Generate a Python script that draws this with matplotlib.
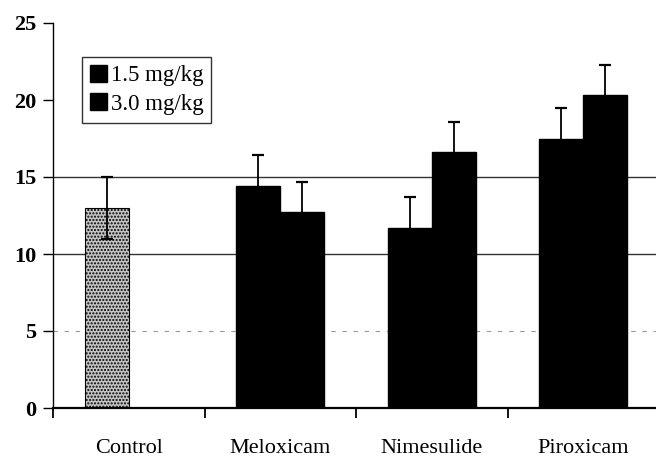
import numpy as np
import matplotlib
matplotlib.use("Agg")
import matplotlib.pyplot as plt
from matplotlib.patches import Patch

plt.rcParams['font.family'] = ['Liberation Serif', 'DejaVu Serif']

groups = ['Control', 'Meloxicam', 'Nimesulide', 'Piroxicam']
dose_labels = ['1.5 mg/kg', '3.0 mg/kg']
control_val = 13.0
control_err = 2.0
low_dose = [14.4, 11.7, 17.5]
low_err = [2.0, 2.0, 2.0]
high_dose = [12.7, 16.6, 20.3]
high_err = [2.0, 2.0, 2.0]

W, H = 656, 458
fig = plt.figure(figsize=(W / 100, H / 100), dpi=100)
ax = fig.add_axes([53 / W, 50 / H, 606 / W, 385 / H])

w = 0.29
x = np.arange(len(groups))

# gridlines like the scan
ax.axhline(15, color='#333333', lw=1.0, zorder=0)
ax.axhline(10, color='#333333', lw=1.0, zorder=0)
ax.axhline(5, color='#999999', lw=0.8, ls=(0, (4, 6)), zorder=0)

ekw = dict(ecolor='black', elinewidth=1.3, capsize=4, capthick=1.6)
ax.bar(x[0] - w / 2, control_val, w, color='#c4c4c4', edgecolor='black',
       lw=0.8, hatch='.....', zorder=2)
ax.errorbar(x[0] - w / 2, control_val, yerr=control_err, fmt='none', zorder=3, **ekw)

ax.bar(x[1:] - w / 2, low_dose, w, color='black', edgecolor='black', zorder=2)
ax.bar(x[1:] + w / 2, high_dose, w, color='black', edgecolor='black', zorder=2)
for off, vals, errs in [(-w / 2, low_dose, low_err), (w / 2, high_dose, high_err)]:
    eb = ax.errorbar(x[1:] + off, vals, yerr=[np.zeros(3), errs], fmt='none', zorder=3, **ekw)
    eb[1][0].set_visible(False)  # hide lower caps

ax.set_xlim(-0.5, 3.5)
ax.set_ylim(0, 25)
ax.set_yticks([0, 5, 10, 15, 20, 25])
ax.set_yticklabels(['0', '5', '10', '15', '20', '25'], fontsize=16, fontweight='bold')
ax.set_xticks(x - 0.5)
ax.set_xticklabels([])
ax.set_xticks(x, minor=True)
ax.set_xticklabels(groups, minor=True, fontsize=16)
ax.tick_params(axis='x', which='minor', length=0, pad=22)
ax.tick_params(axis='x', which='major', length=7, width=1.3, direction='out')
ax.tick_params(axis='y', length=7, width=1.0, direction='out', pad=5)

for s in ['top', 'right']:
    ax.spines[s].set_visible(False)
ax.spines['left'].set_linewidth(1.0)
ax.spines['bottom'].set_linewidth(1.6)

handles = [Patch(facecolor='black', edgecolor='black'),
           Patch(facecolor='black', edgecolor='black')]
leg = ax.legend(handles, dose_labels, loc='upper left', bbox_to_anchor=(0.048, 0.912),
                fontsize=16.5, frameon=True, fancybox=False, edgecolor='black',
                handlelength=0.75, handleheight=0.75, handletextpad=0.15,
                borderpad=0.35, labelspacing=0.3, borderaxespad=0)
leg.get_frame().set_linewidth(1.0)

fig.savefig('out.png', dpi=100)
